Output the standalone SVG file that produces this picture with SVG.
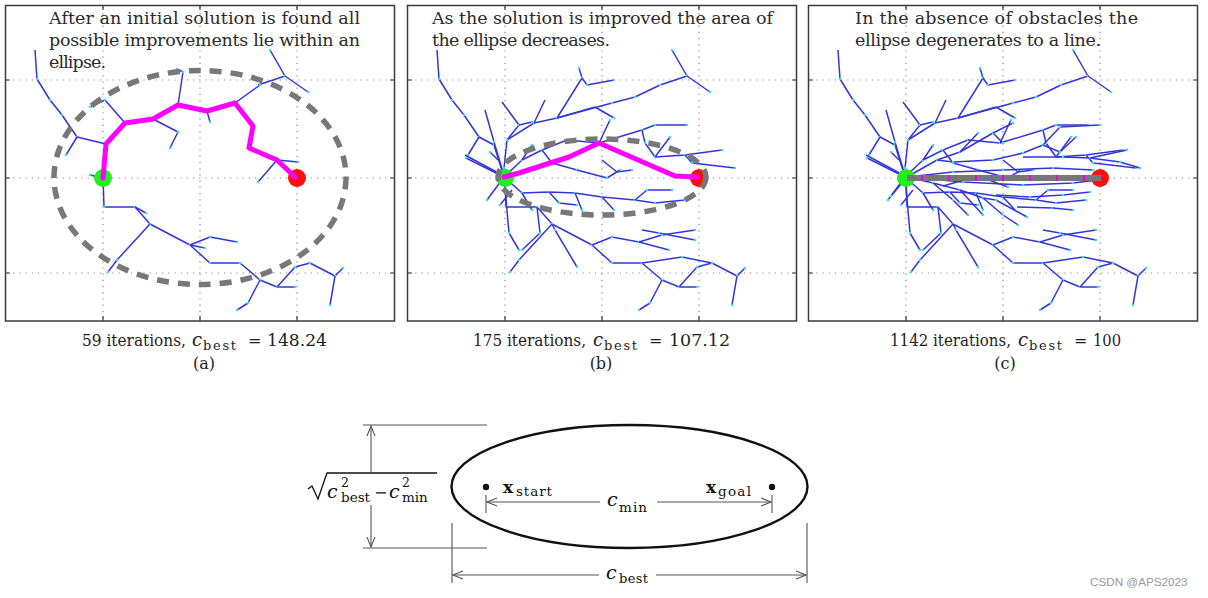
<svg xmlns="http://www.w3.org/2000/svg" width="1208" height="598" viewBox="0 0 1208 598">
<style>
.frame{fill:#fff;stroke:#3a3a3a;stroke-width:1.5}
.grid{fill:none;stroke:#8a8a8a;stroke-width:1.2;stroke-dasharray:1.2 5}
.tick{stroke:#3a3a3a;stroke-width:1.2}
.tree polyline{fill:none;stroke:#3434dc;stroke-width:1.5;stroke-linejoin:round;marker-mid:url(#tip);marker-end:url(#tip)}
.ell{fill:none;stroke:#787878;stroke-width:5.5;stroke-dasharray:12 9}
.sol{fill:none;stroke:#ff00ff;stroke-width:5;stroke-linejoin:round;stroke-linecap:round}
.start{fill:#22ee22}
.goal{fill:#ff1010}
.title{font-family:"DejaVu Serif","Liberation Serif",serif;font-size:17.5px;fill:#2a2a2a}
.cap{font-family:"DejaVu Serif","Liberation Serif",serif;font-size:16px;fill:#1e1e1e}
.it{font-style:italic}
.m{font-family:"DejaVu Serif","Liberation Serif",serif;fill:#111}
.dim{fill:none;stroke:#555;stroke-width:1.1}
.arr{marker-end:url(#chev)}
.arrs{marker-start:url(#chevs)}
</style>
<defs>
<marker id="tip" markerUnits="userSpaceOnUse" markerWidth="4" markerHeight="4" refX="2" refY="2"><circle cx="2" cy="2" r="1.3" fill="#3fd8ff"/></marker>
<marker id="chev" markerUnits="userSpaceOnUse" markerWidth="12" markerHeight="10" refX="11" refY="5" orient="auto"><path d="M1,1 L11,5 L1,9" fill="none" stroke="#555" stroke-width="1.1"/></marker>
<marker id="chevs" markerUnits="userSpaceOnUse" markerWidth="12" markerHeight="10" refX="1" refY="5" orient="auto"><path d="M11,1 L1,5 L11,9" fill="none" stroke="#555" stroke-width="1.1"/></marker>
<g id="axes">
<rect class="frame" x="5.5" y="5.5" width="389" height="315.5"/>
<path class="grid" d="M103,7V320M200,7V320M297,7V320M7,80H393M7,178H393M7,273H393"/>
<path class="tick" d="M103,321v-5M200,321v-5M297,321v-5M103,5v5M200,5v5M297,5v5M5,80h5M5,178h5M5,273h5M395,80h-5M395,178h-5M395,273h-5"/>
</g>
<g id="treeBase" class="tree">
<polyline points="35,50 37,79 50,100 62,115 77,137"/>
<polyline points="77,137 66,155"/>
<polyline points="258,85 285,76 270,50"/>
<polyline points="285,76 308,92"/>
<polyline points="103,178 104,207 135,207 150,224 190,245 210,263 240,263 260,280 277,287 295,287"/>
<polyline points="150,224 117,260 108,272"/>
<polyline points="190,245 210,237 237,242"/>
<polyline points="260,280 248,303 237,310"/>
<polyline points="277,287 295,267 310,263 335,276 343,268"/>
<polyline points="335,276 330,305"/>
</g>
<g id="treeB" class="tree">
<polyline points="77,137 92,145 102,177"/>
<polyline points="63,155 100,175"/>
<polyline points="83,110 92,142 101,172"/>
<polyline points="100,102 117,125 105,140 102,168"/>
<polyline points="143,100 132,123 105,140"/>
<polyline points="132,123 155,118 180,78 177,68"/>
<polyline points="180,78 185,85 212,80"/>
<polyline points="155,118 193,107 212,118"/>
<polyline points="155,118 210,103 233,97 258,85"/>
<polyline points="117,125 130,122"/>
<polyline points="102,177 120,160 140,150 165,140"/>
<polyline points="140,150 150,163 175,170"/>
<polyline points="120,160 130,145"/>
<polyline points="165,140 197,143 208,120"/>
<polyline points="197,143 240,130 253,125 285,125"/>
<polyline points="240,130 243,143 253,157 268,137"/>
<polyline points="253,157 283,155 320,150"/>
<polyline points="283,155 290,163 333,168"/>
<polyline points="200,160 215,172 230,170"/>
<polyline points="175,170 205,178 218,170"/>
<polyline points="102,177 85,200"/>
<polyline points="102,177 107,233 117,250"/>
<polyline points="102,177 120,193 147,192 173,193 200,197 233,200 253,203 283,200"/>
<polyline points="147,192 157,203 175,205"/>
<polyline points="173,193 180,210"/>
<polyline points="200,197 212,210"/>
<polyline points="233,200 245,190 270,190"/>
<polyline points="120,193 130,210"/>
<polyline points="135,207 138,233 120,250"/>
<polyline points="150,224 153,230 175,267"/>
<polyline points="237,242 267,250"/>
<polyline points="240,230 257,233 293,240"/>
<polyline points="237,242 260,235 293,230"/>
<polyline points="240,263 280,257 310,263"/>
<polyline points="102,177 64,158"/>
<polyline points="96,160 88,152"/>
<polyline points="110,190 98,205"/>
</g>
<g id="treeC" class="tree">
<polyline points="104,177 134,160 157,152 175,133"/>
<polyline points="157,152 190,133 200,143"/>
<polyline points="190,133 210,123"/>
<polyline points="134,160 150,162 190,160 220,153 240,145 257,127 297,125"/>
<polyline points="240,145 257,152 273,137"/>
<polyline points="220,157 260,157 287,158 324,150"/>
<polyline points="287,158 317,162 337,168"/>
<polyline points="104,177 130,183 157,190 180,198 193,200 224,217"/>
<polyline points="157,190 180,215"/>
<polyline points="193,195 227,197 260,195 287,192"/>
<polyline points="214,207 250,208"/>
<polyline points="104,177 150,172 200,170 250,168 290,170"/>
<polyline points="104,177 160,182 220,185 270,183 295,180"/>
<polyline points="130,183 150,200 165,215"/>
<polyline points="250,208 270,210"/>
<polyline points="180,198 200,215 215,225"/>
<polyline points="104,177 88,196"/>
<polyline points="140,186 175,176 205,187"/>
</g>
</defs>
<rect width="1208" height="598" fill="#fff"/>

<g id="panel-a">
<use href="#axes"/>
<use href="#treeBase"/>
<g class="tree">
<polyline points="77,137 106,144"/>
<polyline points="125,123 105,100 90,107"/>
<polyline points="153,119 178,132 170,148"/>
<polyline points="178,105 183,72 177,69"/>
<polyline points="207,111 210,122"/>
<polyline points="235,103 260,85"/>
<polyline points="277,160 258,182"/>
<polyline points="277,160 298,162"/>
<polyline points="103,178 90,175"/>
<polyline points="135,207 146,213"/>
<polyline points="190,245 205,248"/>
</g>
<circle class="start" cx="103" cy="178" r="9"/>
<circle class="goal" cx="297" cy="178" r="9"/>
<ellipse class="ell" cx="200" cy="177.5" rx="146" ry="107"/>
<polyline class="sol" points="103,178 106,144 125,123 153,119 178,105 207,111 235,103 253,126 249,148 277,160 295,177"/>
<text class="title" x="49" y="24" textLength="311" lengthAdjust="spacing">After an initial solution is found all</text>
<text class="title" x="49" y="46" textLength="311" lengthAdjust="spacing">possible improvements lie within an</text>
<text class="title" x="49" y="68" textLength="57" lengthAdjust="spacing">ellipse.</text>
</g>

<g id="panel-b" transform="translate(402,0)">
<use href="#axes"/>
<use href="#treeBase"/>
<use href="#treeB"/>
<circle class="start" cx="103" cy="178" r="9"/>
<circle class="goal" cx="297" cy="178" r="9"/>
<ellipse class="ell" cx="200" cy="177" rx="104" ry="38"/>
<polyline class="sol" points="102,177 117,173 167,157 197,143 273,176 295,177"/>
<text class="title" x="30" y="24" textLength="341" lengthAdjust="spacing">As the solution is improved the area of</text>
<text class="title" x="30" y="46" textLength="178" lengthAdjust="spacing">the ellipse decreases.</text>
</g>

<g id="panel-c" transform="translate(803,0)">
<use href="#axes"/>
<use href="#treeBase"/>
<use href="#treeB"/>
<use href="#treeC"/>
<circle class="start" cx="103" cy="178" r="9"/>
<circle class="goal" cx="297" cy="178" r="9"/>
<line x1="104" y1="178" x2="298" y2="178" stroke="#777" stroke-width="6"/>
<line x1="118" y1="178" x2="290" y2="178" stroke="#ee00ee" stroke-width="6" stroke-dasharray="2 25"/>
<text class="title" x="52" y="24" textLength="283" lengthAdjust="spacing">In the absence of obstacles the</text>
<text class="title" x="52" y="46" textLength="246" lengthAdjust="spacing">ellipse degenerates to a line.</text>
</g>

<g id="captions" class="cap">
<text x="82" y="346" textLength="104" lengthAdjust="spacingAndGlyphs">59 iterations,</text>
<text class="it" x="192" y="346" font-size="18">c</text>
<text x="203" y="350" font-size="13" textLength="33" lengthAdjust="spacing">best</text>
<text x="248" y="346">=</text>
<text x="267" y="346" textLength="60" lengthAdjust="spacingAndGlyphs">148.24</text>
<text x="204" y="369" text-anchor="middle">(a)</text>

<text x="473" y="346" textLength="113" lengthAdjust="spacingAndGlyphs">175 iterations,</text>
<text class="it" x="593" y="346" font-size="18">c</text>
<text x="604" y="350" font-size="13" textLength="33" lengthAdjust="spacing">best</text>
<text x="649" y="346">=</text>
<text x="669" y="346" textLength="61" lengthAdjust="spacingAndGlyphs">107.12</text>
<text x="601" y="369" text-anchor="middle">(b)</text>

<text x="890" y="346" textLength="121" lengthAdjust="spacingAndGlyphs">1142 iterations,</text>
<text class="it" x="1018" y="346" font-size="18">c</text>
<text x="1029" y="350" font-size="13" textLength="33" lengthAdjust="spacing">best</text>
<text x="1074" y="346">=</text>
<text x="1093" y="346" textLength="28" lengthAdjust="spacingAndGlyphs">100</text>
<text x="1005" y="369" text-anchor="middle">(c)</text>
</g>

<g id="ellipse-diagram">
<ellipse cx="629.5" cy="486.5" rx="178" ry="61.5" fill="none" stroke="#111" stroke-width="2.4"/>
<circle cx="486" cy="487" r="3.2" fill="#111"/>
<circle cx="772" cy="487" r="3.2" fill="#111"/>
<text class="m" x="503" y="493" font-size="17" font-weight="bold">x</text>
<text class="m" x="516" y="496" font-size="13.5" textLength="36" lengthAdjust="spacing">start</text>
<text class="m" x="706" y="493" font-size="17" font-weight="bold">x</text>
<text class="m" x="718" y="496" font-size="13.5" textLength="33" lengthAdjust="spacing">goal</text>
<text class="m it" x="607" y="506" font-size="19">c</text>
<text class="m" x="619" y="512" font-size="13.5" textLength="28" lengthAdjust="spacing">min</text>
<text class="m it" x="606" y="579" font-size="19">c</text>
<text class="m" x="619" y="583" font-size="13" textLength="29" lengthAdjust="spacing">best</text>
<polyline points="308,489 312,486 318,499 327,473 437,473" fill="none" stroke="#111" stroke-width="1.3"/>
<text class="m it" x="327" y="498" font-size="19">c</text>
<text class="m" x="341" y="487" font-size="12.5">2</text>
<text class="m" x="341" y="502" font-size="13.5" textLength="29" lengthAdjust="spacing">best</text>
<text class="m" x="374" y="498" font-size="16">−</text>
<text class="m it" x="389" y="498" font-size="19">c</text>
<text class="m" x="402" y="487" font-size="12.5">2</text>
<text class="m" x="402" y="502" font-size="13.5">min</text>
</g>

<g id="connectors">
<path class="dim" d="M486,495V513M772,495V513M452,523V583M807,523V583M363,425H487M363,548H487"/>
<line class="dim arrs" x1="487" y1="502" x2="600" y2="502"/>
<line class="dim arr" x1="657" y1="502" x2="771" y2="502"/>
<line class="dim arrs" x1="453" y1="575" x2="599" y2="575"/>
<line class="dim arr" x1="656" y1="575" x2="806" y2="575"/>
<line class="dim arrs" x1="371" y1="426" x2="371" y2="473"/>
<line class="dim arr" x1="371" y1="505" x2="371" y2="547"/>
</g>

<text x="1090" y="586" font-family="Liberation Sans, Arial, sans-serif" font-size="11.7" fill="#999">CSDN @APS2023</text>
</svg>
